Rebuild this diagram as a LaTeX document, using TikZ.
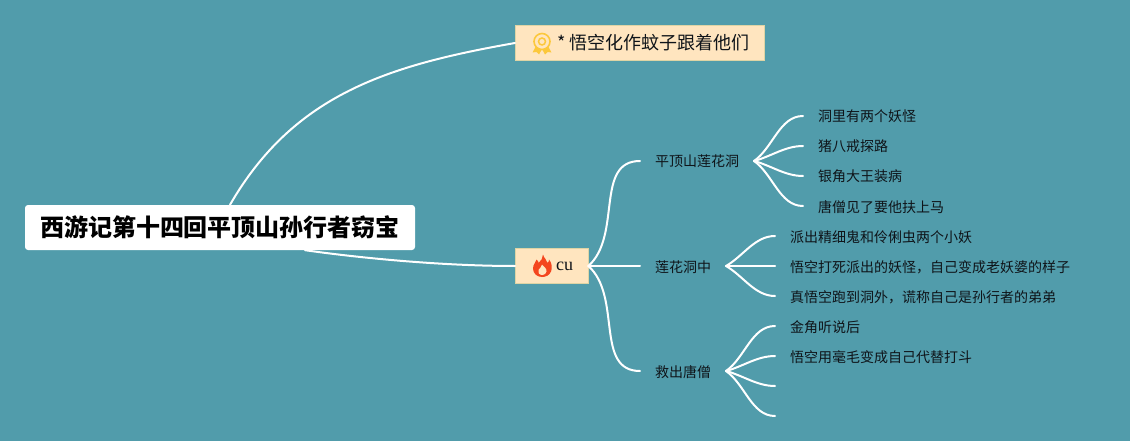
\documentclass[tikz,border=0pt]{standalone}
\usepackage{fontspec}
\setmainfont{Noto Sans CJK SC}
\newfontfamily\latinfont{Liberation Serif}
\usetikzlibrary{positioning}

\definecolor{bgteal}{RGB}{81,156,171}
\definecolor{boxfill}{RGB}{255,229,191}
\definecolor{boxline}{RGB}{222,212,165}
\definecolor{inktext}{RGB}{15,20,25}
\definecolor{badgegold}{RGB}{252,200,60}
\definecolor{flamered}{RGB}{244,70,30}

\begin{document}
\begin{tikzpicture}[x=1pt,y=-1pt,line cap=round,auto,node distance=11pt]
  \tikzstyle{root}=[fill=white,rounded corners=3pt,text=black,font=\fontsize{24}{24}\selectfont\bfseries,
                    minimum width=390pt,minimum height=45pt,inner sep=0pt]
  \tikzstyle{topic}=[fill=boxfill,draw=boxline,text=inktext,font=\fontsize{18}{18}\selectfont,
                     minimum height=35pt,inner xsep=15pt,inner ysep=0pt,anchor=west]
  \tikzstyle{branch}=[text=inktext,font=\fontsize{14}{14}\selectfont,inner xsep=15pt,inner ysep=2pt,outer sep=0pt,
                      text height=13.5pt,text depth=1.5pt]
  \tikzstyle{link}=[draw=white,line width=2pt]
  \tikzstyle{curve}=[in=180,looseness=0.9]

  \fill[bgteal] (0,0) rectangle (1130,441);

  \node[root] (title) at (220,227.5) {西游记第十四回平顶山孙行者窃宝};
  \node[topic] (mosquito) at (515,43) {\hspace*{27pt}* 悟空化作蚊子跟着他们};
  \node[topic] (cu) at (515,266) {\hspace*{26pt}{\latinfont cu}};

  \node[branch,anchor=west] (cave)   at (640,161) {平顶山莲花洞};
  \node[branch,anchor=west] (inside) at (640,266) {莲花洞中};
  \node[branch,anchor=west] (rescue) at (640,371) {救出唐僧};

  \node[branch,anchor=west] (c1) at (803,116) {洞里有两个妖怪};
  \node[branch] (c2) [below=of c1.south west,anchor=north west] {猪八戒探路};
  \node[branch] (c3) [below=of c2.south west,anchor=north west] {银角大王装病};
  \node[branch] (c4) [below=of c3.south west,anchor=north west] {唐僧见了要他扶上马};

  \node[branch,anchor=west] (i1) at (775,236) {派出精细鬼和伶俐虫两个小妖};
  \node[branch] (i2) [below=of i1.south west,anchor=north west] {悟空打死派出的妖怪，自己变成老妖婆的样子};
  \node[branch] (i3) [below=of i2.south west,anchor=north west] {真悟空跑到洞外，谎称自己是孙行者的弟弟};

  \node[branch,anchor=west] (r1) at (775,326) {金角听说后};
  \node[branch] (r2) [below=of r1.south west,anchor=north west] {悟空用毫毛变成自己代替打斗};
  \coordinate (r3) at (775,386);
  \coordinate (r4) at (775,416);

  \path[link] ([xshift=10pt]title.north) edge [out=60,in=190,looseness=1] (mosquito.west)
        ([xshift=85pt]title.south) edge [out=-8,in=180,looseness=0.8] (cu.west);

  \path[link] (cu.east) edge [curve,out=42,looseness=1] (cave.west)
              edge (inside.west)
              edge [curve,out=-42,looseness=1] (rescue.west)
        (cave.east) edge [curve,out=35] (c1.west)
              edge [curve,out=15] (c2.west)
              edge [curve,out=-15] (c3.west)
              edge [curve,out=-35] (c4.west)
        (inside.east) edge [curve,out=30] (i1.west)
              edge (i2.west)
              edge [curve,out=-30] (i3.west)
        (rescue.east) edge [curve,out=35] (r1.west)
              edge [curve,out=15] (r2.west)
              edge [curve,out=-15] (r3)
              edge [curve,out=-35] (r4);

  % badge icon
  \fill[badgegold] (535.5,47) -- (532.5,52.5) -- (536.5,52) -- (539,54.5) -- (542,49) -- (545,54.5)
        -- (547.5,52) -- (551.5,52.5) -- (548.5,47) -- cycle;
  \draw[badgegold,fill=boxfill,line width=1.6pt] (542,41.5) circle (8pt);
  \draw[badgegold,line width=1.5pt] (542,41.5) circle (3.5pt);

  % flame icon
  \fill[flamered] (543,254.5) .. controls (544,259) and (547,259) .. (547.5,263)
        .. controls (549,262) and (549,260.5) .. (549,259.5)
        .. controls (552,263) and (552.5,268) .. (551,271.5)
        .. controls (549.5,275.5) and (545.5,277) .. (542,277)
        .. controls (537,277) and (533,273.5) .. (533,268.5)
        .. controls (533,264) and (536,262.5) .. (536.5,259.5)
        .. controls (538,260.5) and (538.5,262) .. (538.5,263)
        .. controls (541,261) and (543,258) .. (543,254.5) -- cycle;
  \fill[boxfill] (542.5,275) .. controls (539,275) and (537.5,272.5) .. (538.5,270)
        .. controls (539.5,268) and (541.5,267.5) .. (542,264.5)
        .. controls (544,266.5) and (547,269) .. (546.5,271.5)
        .. controls (546,273.5) and (544.5,275) .. (542.5,275) -- cycle;
\end{tikzpicture}
\end{document}
